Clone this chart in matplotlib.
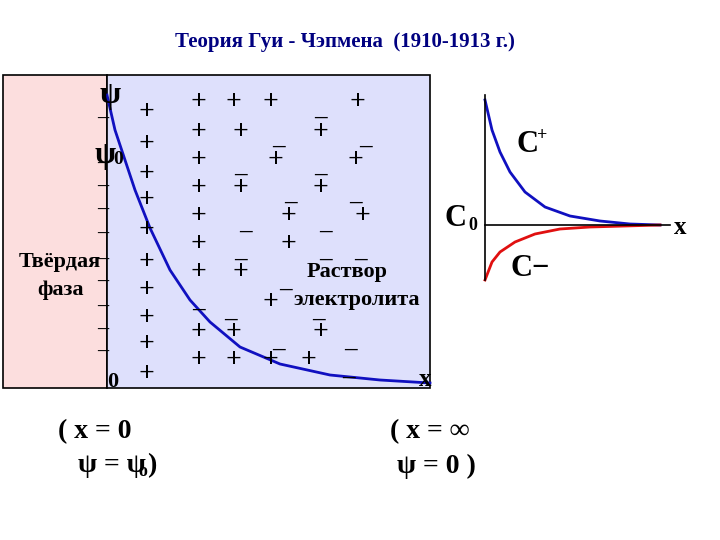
import matplotlib
matplotlib.use("Agg")
import matplotlib.pyplot as plt
from matplotlib.patches import Rectangle

# potential decay curve (pixel-space samples)
psi_x = [107, 115, 125, 135, 150, 170, 190, 210, 240, 280, 330, 380, 430]
psi_y = [95, 130, 160, 190, 228, 270, 300, 322, 347, 364, 375, 380, 383]
cp_x = [485, 492, 500, 510, 525, 545, 570, 600, 630, 660]
cp_y = [100, 130, 152, 172, 192, 207, 216, 221, 224, 225]
cm_x = [485, 492, 500, 515, 535, 560, 590, 625, 660]
cm_y = [280, 262, 252, 242, 234, 229, 227, 226, 225]

fig = plt.figure(figsize=(7.2, 5.4), dpi=100)
ax = fig.add_axes([0, 0, 1, 1])
ax.set_xlim(0, 720); ax.set_ylim(540, 0); ax.axis("off")
F = "Liberation Serif"

ax.add_patch(Rectangle((3, 75), 104, 313, fc="#fcdede", ec="black", lw=1.2))
ax.add_patch(Rectangle((107, 75), 323, 313, fc="#dee0fc", ec="black", lw=1.2))
ax.plot(psi_x, psi_y, color="#1010c0", lw=2)
ax.plot(cp_x, cp_y, color="#1010c0", lw=2)
ax.plot(cm_x, cm_y, color="#e01010", lw=2)
ax.plot([485, 485], [95, 280], color="black", lw=1.2)
ax.plot([485, 670], [225, 225], color="black", lw=1.2)

def t(x, y, s, size=20, **kw):
    ax.text(x, y, s, fontsize=size, family=F, fontweight="bold", ha="center", va="center", **kw)

t(345, 42, "Теория Гуи - Чэпмена  (1910-1913 г.)", 15, color="#000080")
t(110, 95, "ψ", 22)
t(105, 155, "ψ", 22); t(118, 160, "0", 14)
for y in [127, 172, 195, 218, 242, 268, 290, 315, 338, 360]:
    t(103, y - 8, "–", 16)
t(113, 382, "0", 16)
t(60, 262, "Твёрдая", 16); t(60, 290, "фаза", 16)
for y in [113, 145, 175, 200, 230, 262, 290, 318, 345, 375]:
    t(146, y, "+", 20)
plus = [(198,103),(233,103),(270,103),(357,103),(198,132),(240,132),(320,132),
        (198,160),(275,160),(355,160),(198,188),(240,188),(320,188),(198,216),(288,216),
        (362,216),(198,244),(288,244),(198,272),(240,272),(270,302),(198,332),(233,332),
        (320,332),(198,360),(233,360),(270,360),(308,360)]
for x, y in plus:
    t(x, y, "+", 20)
minus = [(320,108),(278,137),(365,137),(240,165),(320,165),(290,193),(355,193),
         (245,222),(325,222),(325,250),(360,250),(240,250),(285,280),(198,300),(230,310),
         (318,310),(278,340),(350,340),(348,368)]
for x, y in minus:
    t(x, y, "_", 18)
t(347, 272, "Раствор", 16); t(357, 300, "электролита", 16)
t(425, 380, "x", 18)
t(95, 432, "( x = 0", 20); t(112, 466, "ψ = ψ", 20); t(143, 472, "o", 13); t(152, 466, ")", 20)
t(430, 432, "( x = ∞", 20); t(436, 466, "ψ = 0 )", 20)
t(528, 145, "C", 22); t(542, 135, "+", 13)
t(456, 218, "C", 22); t(473, 225, "0", 13)
t(530, 268, "C−", 22)
t(680, 228, "x", 18)
fig.savefig("out.png", dpi=100)
